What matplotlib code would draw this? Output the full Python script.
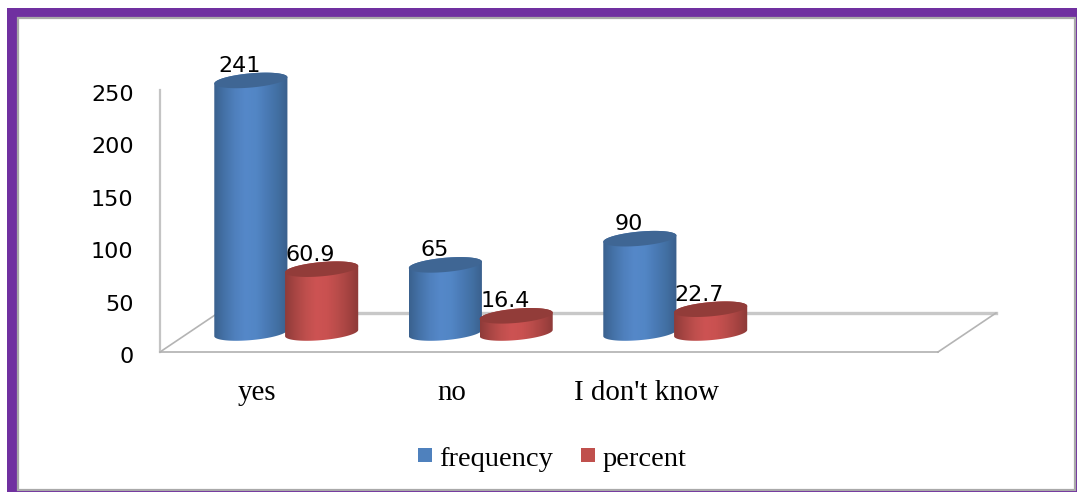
import numpy as np
import matplotlib
matplotlib.use("Agg")
import matplotlib.pyplot as plt
from matplotlib.colors import LinearSegmentedColormap
from matplotlib.patches import Rectangle, PathPatch, Patch
from matplotlib.path import Path
from matplotlib.transforms import ScaledTranslation

categories = ["yes", "no", "I don't know"]
series_names = ["frequency", "percent"]
frequency = [241, 65, 90]
percent = [60.9, 16.4, 22.7]
y_ticks = [0, 50, 100, 150, 200, 250]

W, H = 1077, 492
DPI = 100
fig = plt.figure(figsize=(W / DPI, H / DPI), dpi=DPI, facecolor="white")


def fig_rect(x0, y0, x1, y1):
    """Rectangle bounds in figure fractions from top-left pixel corners."""
    return x0 / W, 1 - y1 / H, (x1 - x0) / W, (y1 - y0) / H


# Purple outer frame with a thin grey inner border
x, y, w, h = fig_rect(7, 8, W, H)
fig.add_artist(Rectangle((x, y), w, h, transform=fig.transFigure, fc="#7030a0", ec="none", zorder=-3))
x, y, w, h = fig_rect(18, 18, 1075, 490)
fig.add_artist(Rectangle((x, y), w, h, transform=fig.transFigure, fc="white", ec="#a9a9a9",
                         lw=1.6, zorder=-2))

ax = fig.add_axes(fig_rect(160, 90, 938, 352))
ax.set_zorder(2)
ax.patch.set_visible(False)
ax.set_xlim(-0.5, 3.5)
ax.set_ylim(0, 250)

for side in ("top", "right"):
    ax.spines[side].set_visible(False)
ax.spines["left"].set_color("#c4c4c4")
ax.spines["left"].set_linewidth(1.6)
ax.spines["bottom"].set_color("#b0b0b0")
ax.spines["bottom"].set_linewidth(1.2)

ax.set_yticks(y_ticks)
ax.tick_params(axis="y", length=0, pad=19, labelsize=16, labelcolor="black")
# Value labels sit slightly below their gridline height
label_drop = ScaledTranslation(0, -3 / DPI, fig.dpi_scale_trans)
for tick in ax.yaxis.get_major_ticks():
    tick.label1.set_transform(tick.label1.get_transform() + label_drop)
ax.set_xticks(range(len(categories)))
ax.set_xticklabels(categories, fontfamily="Liberation Serif", fontsize=20.8)
ax.tick_params(axis="x", length=0, pad=20, labelcolor="black")


def depth(dx_px, dy_px):
    """Data transform shifted into the 3D floor by a pixel offset."""
    return ax.transData + ScaledTranslation(dx_px / DPI, dy_px / DPI, fig.dpi_scale_trans)


# Floor of the pseudo-3D plot area
back = depth(58, 39)
ax.plot([-0.5, 3.5], [0, 0], transform=back, color="#c8c8c8", lw=2.4, clip_on=False, zorder=1)
for xv in (-0.5, 3.5):
    front_pt = ax.transData.transform((xv, 0))
    back_pt = back.transform((xv, 0))
    xs, ys = zip(front_pt, back_pt)
    ax.plot(xs, ys, transform=None, color="#b4b4b4", lw=1.2, clip_on=False, zorder=1)

mid = depth(29, 19)

blue_map = LinearSegmentedColormap.from_list(
    "blue_cyl", ["#3a618e", "#4572a8", "#4f80bd", "#5588c9", "#5286c5", "#4a7ab5", "#4270a3", "#3a5f8c"])
red_map = LinearSegmentedColormap.from_list(
    "red_cyl", ["#8e3b39", "#a94644", "#bf4f4d", "#cd5353", "#c95150", "#b94c4a", "#a54341", "#8c3a38"])
gradient = np.linspace(0, 1, 256).reshape(1, -1)

HALF_WIDTH = 0.188   # cylinder radius in category units
CAP_B = 6.8          # cap half-height in value units
CAP_TILT = 3.0       # cap tilt in value units


def ellipse_pts(cx, level, t):
    xs = cx + HALF_WIDTH * np.cos(t)
    ys = level + CAP_B * np.sin(t) + CAP_TILT * np.cos(t)
    return np.column_stack([xs, ys])


def cylinder(cx, value, cmap, cap_color):
    upper = ellipse_pts(cx, value, np.linspace(0, np.pi, 60))
    lower = ellipse_pts(cx, 0, np.linspace(np.pi, 2 * np.pi, 60))
    outline = np.vstack([upper, lower, upper[:1]])
    body = PathPatch(Path(outline), fc="none", ec="none", transform=mid, zorder=3, clip_on=False)
    ax.add_patch(body)
    im = ax.imshow(gradient, cmap=cmap, aspect="auto", interpolation="bilinear",
                   extent=(cx - HALF_WIDTH, cx + HALF_WIDTH, -20, value + 20),
                   transform=mid, zorder=3)
    im.set_clip_box(fig.bbox)
    im.set_clip_path(body)
    cap = ellipse_pts(cx, value, np.linspace(0, 2 * np.pi, 120))
    ax.add_patch(PathPatch(Path(cap), fc=cap_color, ec="none", transform=mid,
                           zorder=3.1, clip_on=False))
    ax.annotate(f"{value:g}", xy=(cx, value), xycoords=mid, xytext=(-8, 10.5),
                textcoords="offset points", ha="center", va="center",
                fontsize=16, color="black", zorder=4, annotation_clip=False)


offset = 0.182
for i in range(len(categories)):
    cylinder(i - offset, frequency[i], blue_map, "#3f6694")
    cylinder(i + offset, percent[i], red_map, "#923c39")

ax.set_xlim(-0.5, 3.5)
ax.set_ylim(0, 250)

handles = [Patch(fc="#4f81bd", ec="none"), Patch(fc="#c0504d", ec="none")]
leg = fig.legend(handles, series_names, loc="center", ncol=2, frameon=False,
                 bbox_to_anchor=(552 / W, 1 - 459 / H),
                 prop={"family": "Liberation Serif", "size": 20.5},
                 handlelength=0.5, handleheight=0.38, handletextpad=0.27,
                 columnspacing=0.95, borderpad=0, borderaxespad=0)
leg.set_zorder(3)

fig.savefig("out.png", dpi=DPI, facecolor="white")
